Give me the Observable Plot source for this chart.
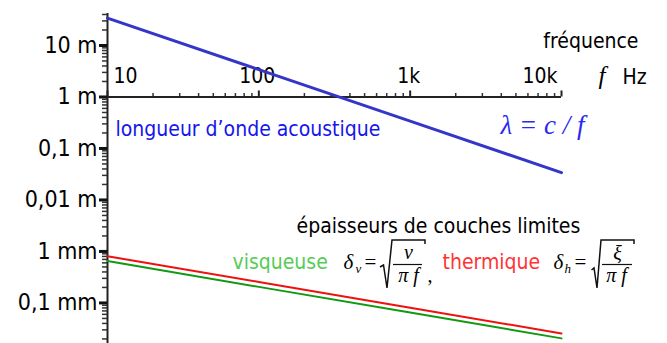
<!DOCTYPE html>
<html>
<head>
<meta charset="utf-8">
<script src="https://cdn.jsdelivr.net/npm/d3@7"></script>
<script src="https://cdn.jsdelivr.net/npm/@observablehq/plot@0.6"></script>
<style>
  html, body { margin: 0; padding: 0; background: #ffffff; }
  #chart { width: 667px; height: 343px; }
  #chart svg g[aria-label="y-axis tick label"] text, #chart svg g[aria-label="y-axis"] text { font-size: 23px; }
</style>
</head>
<body>
<div id="chart"></div>
<script>
// ---- data ----
const freq = [10, 100, 1000, 10000];                       // Hz
const lambda = [34, 3.4, 0.34, 0.034];                     // m, λ = c/f
const deltaH = [0.81e-3, 0.256e-3, 0.081e-3, 0.0256e-3];   // m, thermique
const deltaV = [0.65e-3, 0.205e-3, 0.065e-3, 0.0205e-3];   // m, visqueuse

const xTicks = [10, 100, 1000, 10000];
const xTickLabels = ["10", "100", "1k", "10k"];
const yTicks = [10, 1, 0.1, 0.01, 0.001, 0.0001];
const yTickLabels = ["10 m", "1 m", "0,1 m", "0,01 m", "1 mm", "0,1 mm"];
const minorSteps = [2, 3, 4, 5, 6, 7, 8, 9];

const xMinor = [10, 100, 1000].flatMap(d => minorSteps.map(k => d * k));
const yMinor = [1e-5, 1e-4, 1e-3, 1e-2, 1e-1, 1, 10].flatMap(d => minorSteps.map(k => d * k));

const SANS = "'DejaVu Sans Condensed', 'DejaVu Sans', sans-serif";
const SERIF = "'Liberation Serif', 'DejaVu Serif', serif";

function note(text, dx, dy, opts = {}) {
  return Plot.text([text], {
    text: d => d, frameAnchor: "top-left", dx, dy,
    lineAnchor: "bottom", textAnchor: "start",
    fontFamily: SANS, fontSize: 21, fill: "#000", ...opts
  });
}

const chart = Plot.plot({
  width: 667,
  height: 343,
  marginLeft: 107,
  marginRight: 106,
  marginTop: 13,
  marginBottom: 0,
  style: {fontFamily: SANS, fontSize: "21px", color: "#000", background: "#fff", overflow: "visible"},
  x: {type: "log", domain: [10, 10000], axis: null},
  y: {type: "log", domain: [1.63e-5, 41.8], axis: null},
  marks: [
    // y axis line, ticks and labels
    Plot.ruleX([10], {x: d => d, stroke: "#222", strokeWidth: 2}),
    Plot.ruleY(yMinor.filter(d => d > 1.63e-5 && d < 41.8), {y: d => d, x1: () => 10, x2: () => 10, insetLeft: -5, stroke: "#333", strokeWidth: 1.5}),
    Plot.ruleY(yTicks, {y: d => d, x1: () => 10, x2: () => 10, insetLeft: -8, stroke: "#111", strokeWidth: 3}),
    Plot.text(yTicks, {x: () => 10, y: d => d, text: (d, i) => yTickLabels[i], textAnchor: "end", dx: -10, fontSize: 23}),
    // x axis line (at 1 m) and ticks
    Plot.ruleY([1], {y: d => d, stroke: "#222", strokeWidth: 2}),
    Plot.ruleX(xMinor, {x: d => d, y1: () => 1, y2: () => 1, insetBottom: 3.5, stroke: "#333", strokeWidth: 1.5}),
    Plot.ruleX(xTicks, {x: d => d, y1: () => 1, y2: () => 1, insetBottom: 6, stroke: "#222", strokeWidth: 2}),
    // x tick labels
    Plot.text([0], {x: i => xTicks[i], y: () => 1, text: i => xTickLabels[i], textAnchor: "start", lineAnchor: "bottom", dx: 6, dy: -13.5, fontSize: 21}),
    Plot.text([1, 2], {x: i => xTicks[i], y: () => 1, text: i => xTickLabels[i], textAnchor: "middle", lineAnchor: "bottom", dx: -1.5, dy: -13.5, fontSize: 21}),
    Plot.text([3], {x: i => xTicks[i], y: () => 1, text: i => xTickLabels[i], textAnchor: "end", lineAnchor: "bottom", dx: -4, dy: -13.5, fontSize: 21}),
    // series
    Plot.line(freq, {x: d => d, y: (d, i) => lambda[i], stroke: "#3535c8", strokeWidth: 3}),
    Plot.line(freq, {x: d => d, y: (d, i) => deltaH[i], stroke: "#ee1111", strokeWidth: 2}),
    Plot.line(freq, {x: d => d, y: (d, i) => deltaV[i], stroke: "#129912", strokeWidth: 2}),
    // annotations
    note("fréquence", 531, 34, {textAnchor: "end"}),
    note("f", 491, 70, {fontFamily: SERIF, fontStyle: "italic", fontSize: 25}),
    note("Hz", 515, 70),
    note("longueur d’onde acoustique", 8, 122, {fill: "#1515ee"}),
    note("λ = c / f", 393, 120, {fontFamily: SERIF, fontStyle: "italic", fontSize: 27, fill: "#2a2aee"}),
    note("épaisseurs de couches limites", 189, 219),
    note("visqueuse", 125, 255.5, {fill: "#55cc55"}),
    note("thermique", 335, 255.5, {fill: "#ff3333"}),
    // formula 1
    note("δ", 236, 255.5, {fontFamily: SERIF, fontStyle: "italic", fontSize: 21}),
    note("v", 248, 259, {fontFamily: SERIF, fontStyle: "italic", fontSize: 13}),
    note("=", 257, 255.5, {fontFamily: SERIF, fontSize: 21}),
    note("ν", 301, 245, {fontFamily: SERIF, fontStyle: "italic", fontSize: 20, textAnchor: "middle"}),
    note("π f", 301, 268.5, {fontFamily: SERIF, fontStyle: "italic", fontSize: 20, textAnchor: "middle"}),
    note(",", 320, 268, {fontFamily: SERIF, fontSize: 20}),
    // formula 2
    note("δ", 446, 255.5, {fontFamily: SERIF, fontStyle: "italic", fontSize: 21}),
    note("h", 457, 259, {fontFamily: SERIF, fontStyle: "italic", fontSize: 13}),
    note("=", 467, 255.5, {fontFamily: SERIF, fontSize: 21}),
    note("ξ", 510, 246, {fontFamily: SERIF, fontStyle: "italic", fontSize: 20, textAnchor: "middle"}),
    note("π f", 509, 268.5, {fontFamily: SERIF, fontStyle: "italic", fontSize: 20, textAnchor: "middle"})
  ]
});

// radicals and fraction bars of the two formulas (decoration)
const svg = d3.select(chart);
const deco = svg.append("g").attr("fill", "none").attr("stroke", "#111");
deco.append("path").attr("stroke-width", 1.5).attr("d", "M380,267 L383.5,265 L387,288 L392,240 L425,240 L425,244");
deco.append("path").attr("stroke-width", 1.2).attr("d", "M393,264.5 H422");
deco.append("path").attr("stroke-width", 1.5).attr("d", "M591.5,270 L594,268 L597,288 L601,240 L634,240 L634,244");
deco.append("path").attr("stroke-width", 1.2).attr("d", "M602,264.5 H632");

document.getElementById("chart").appendChild(chart);
</script>
</body>
</html>
